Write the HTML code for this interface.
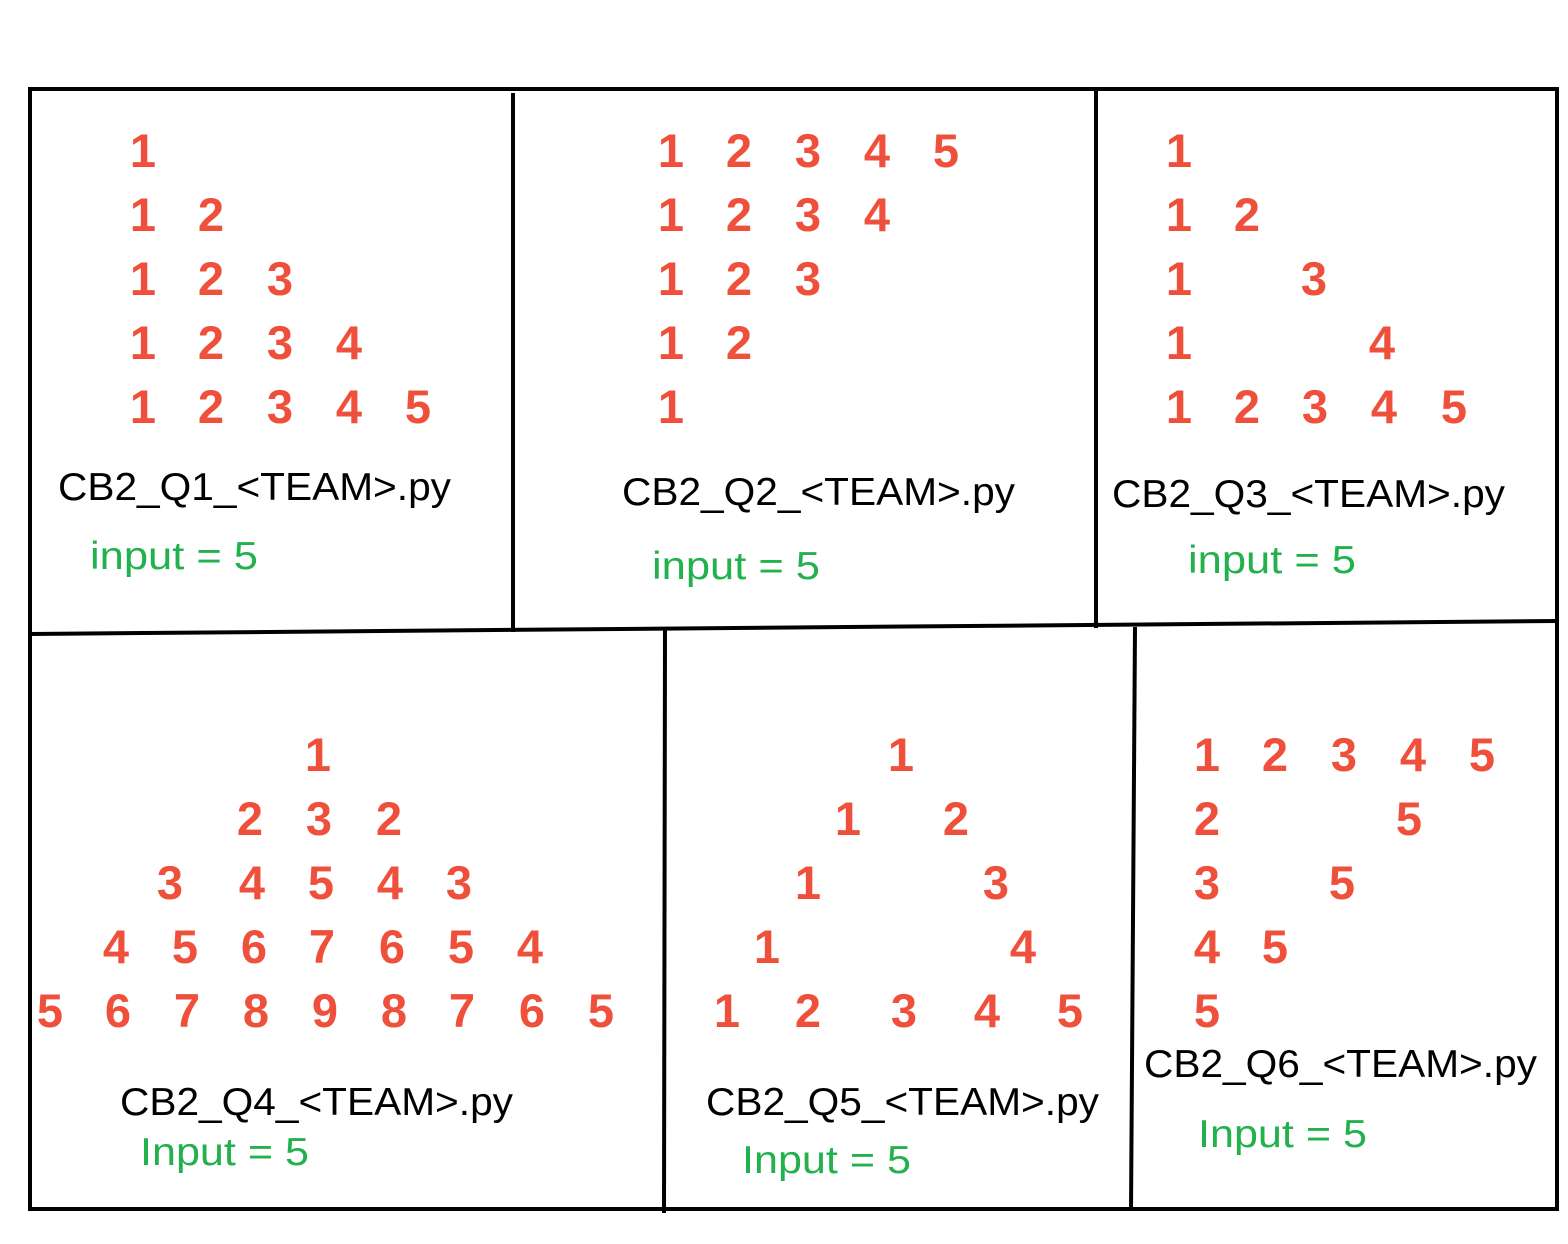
<!DOCTYPE html>
<html><head><meta charset="utf-8"><style>
html,body{margin:0;padding:0;background:#fff;}
svg{display:block;}
.n{font-family:"Liberation Sans",sans-serif;font-weight:bold;font-size:47px;fill:#ef503b;text-anchor:middle;}
.f{font-family:"Liberation Sans",sans-serif;font-size:39px;fill:#000;}
.g{font-family:"Liberation Sans",sans-serif;font-size:39px;fill:#22b14c;}
</style></head><body>
<svg width="1568" height="1244" viewBox="0 0 1568 1244">
<g stroke="#000" stroke-width="4" fill="none">
<line x1="28" y1="89" x2="1559" y2="89"/>
<line x1="30" y1="89" x2="30" y2="1211"/>
<line x1="28" y1="1209" x2="1559" y2="1209"/>
<line x1="1557" y1="89" x2="1557" y2="1211"/>
<line x1="30" y1="634" x2="1557" y2="621"/>
<line x1="513" y1="93" x2="513" y2="632"/>
<line x1="1096" y1="89" x2="1096" y2="628"/>
<line x1="665" y1="630" x2="664" y2="1213"/>
<line x1="1135" y1="627" x2="1131" y2="1211"/>
</g>
<g id="nums"></g>
<g>
<text class="f" x="58" y="500" textLength="393" lengthAdjust="spacingAndGlyphs">CB2_Q1_&lt;TEAM&gt;.py</text>
<text class="f" x="622" y="505" textLength="393" lengthAdjust="spacingAndGlyphs">CB2_Q2_&lt;TEAM&gt;.py</text>
<text class="f" x="1112" y="507" textLength="393" lengthAdjust="spacingAndGlyphs">CB2_Q3_&lt;TEAM&gt;.py</text>
<text class="f" x="120" y="1115" textLength="393" lengthAdjust="spacingAndGlyphs">CB2_Q4_&lt;TEAM&gt;.py</text>
<text class="f" x="706" y="1115" textLength="393" lengthAdjust="spacingAndGlyphs">CB2_Q5_&lt;TEAM&gt;.py</text>
<text class="f" x="1144" y="1077" textLength="393" lengthAdjust="spacingAndGlyphs">CB2_Q6_&lt;TEAM&gt;.py</text>
</g>
<g>
<text class="g" x="90" y="569" textLength="168" lengthAdjust="spacingAndGlyphs">input = 5</text>
<text class="g" x="652" y="579" textLength="168" lengthAdjust="spacingAndGlyphs">input = 5</text>
<text class="g" x="1188" y="573" textLength="168" lengthAdjust="spacingAndGlyphs">input = 5</text>
<text class="g" x="140" y="1165" textLength="169" lengthAdjust="spacingAndGlyphs">Input = 5</text>
<text class="g" x="742" y="1173" textLength="169" lengthAdjust="spacingAndGlyphs">Input = 5</text>
<text class="g" x="1198" y="1147" textLength="169" lengthAdjust="spacingAndGlyphs">Input = 5</text>
</g>
</svg>
<script>
// each entry: [x-center, row-index, digit]
const q1=[[143,0,1],[143,1,1],[211,1,2],[143,2,1],[211,2,2],[280,2,3],[143,3,1],[211,3,2],[280,3,3],[349,3,4],[143,4,1],[211,4,2],[280,4,3],[349,4,4],[418,4,5]];
const q2=[[671,0,1],[739,0,2],[808,0,3],[877,0,4],[946,0,5],[671,1,1],[739,1,2],[808,1,3],[877,1,4],[671,2,1],[739,2,2],[808,2,3],[671,3,1],[739,3,2],[671,4,1]];
const q3=[[1179,0,1],[1179,1,1],[1247,1,2],[1179,2,1],[1314,2,3],[1179,3,1],[1382,3,4],[1179,4,1],[1247,4,2],[1315,4,3],[1384,4,4],[1454,4,5]];
const q4=[[318,0,1],[250,1,2],[319,1,3],[389,1,2],[170,2,3],[252,2,4],[321,2,5],[390,2,4],[459,2,3],[116,3,4],[185,3,5],[254,3,6],[322,3,7],[392,3,6],[461,3,5],[530,3,4],[50,4,5],[118,4,6],[187,4,7],[256,4,8],[325,4,9],[394,4,8],[462,4,7],[532,4,6],[601,4,5]];
const q5=[[901,0,1],[848,1,1],[956,1,2],[808,2,1],[996,2,3],[767,3,1],[1023,3,4],[727,4,1],[808,4,2],[904,4,3],[987,4,4],[1070,4,5]];
const q6=[[1207,0,1],[1275,0,2],[1344,0,3],[1413,0,4],[1482,0,5],[1207,1,2],[1409,1,5],[1207,2,3],[1342,2,5],[1207,3,4],[1275,3,5],[1207,4,5]];
const topBaseline=167, bottomBaseline=771, rowStep=64;
const panels=[[q1,topBaseline],[q2,topBaseline],[q3,topBaseline],[q4,bottomBaseline],[q5,bottomBaseline],[q6,bottomBaseline]];
const g=document.getElementById('nums');
const NS='http://www.w3.org/2000/svg';
panels.forEach((p,pi)=>{
  p[0].forEach(d=>{
    const t=document.createElementNS(NS,'text');
    t.setAttribute('class','n');
    t.setAttribute('x',d[0]);
    t.setAttribute('y',p[1]+d[1]*rowStep);
    t.textContent=d[2];
    
    
    g.appendChild(t);
  });
});
</script>
</body></html>
